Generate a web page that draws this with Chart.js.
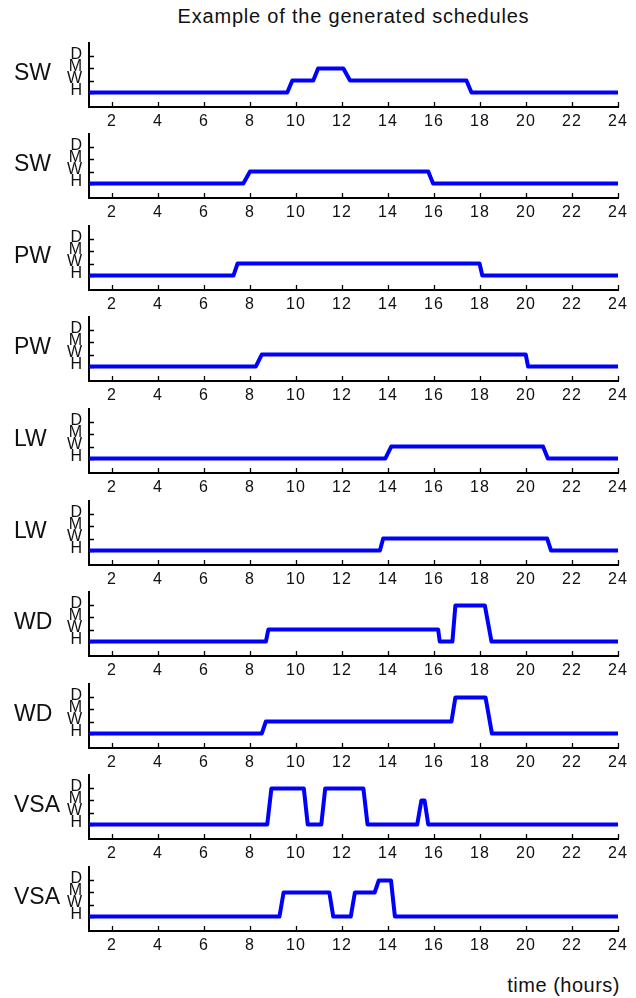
<!DOCTYPE html>
<html>
<head>
<meta charset="utf-8">
<script src="https://cdn.jsdelivr.net/npm/chart.js@4/dist/chart.umd.min.js"></script>
<style>
    html, body { margin: 0; padding: 0; background: #fff; }
    #page {
        position: relative; width: 636px; height: 998px; overflow: hidden;
        font-family: 'Liberation Sans', Arial, sans-serif; color: #111;
    }
    #page canvas { position: absolute; left: 0; }
    .title {
        position: absolute; left: 89px; width: 529px; top: 6px;
        text-align: center; font-size: 20px; line-height: 20px; letter-spacing: 0.8px;
    }
    .xlabel {
        position: absolute; right: 16px; top: 975px;
        font-size: 20px; line-height: 20px; letter-spacing: 0.5px;
    }
</style>
</head>
<body>
<div id="page">
    <div class="title">Example of the generated schedules</div>
    <div class="xlabel">time (hours)</div>
</div>
<script>
// ── DATA ─────────────────────────────────────────────────────────
const rowLabels = ['SW', 'SW', 'PW', 'PW', 'LW', 'LW', 'WD', 'WD', 'VSA', 'VSA'];
const levelNames = ['H', 'W', 'M', 'D'];
const hourTicks = [2, 4, 6, 8, 10, 12, 14, 16, 18, 20, 22, 24];

// breakpoints of each schedule (hour) and the activity level at each one
const schedTimes = [
    [1, 9.62, 9.84, 10.75, 10.96, 12.06, 12.35, 17.41, 17.63, 24],
    [1, 7.71, 8.0, 15.75, 15.96, 24],
    [1, 7.28, 7.46, 17.98, 18.10, 24],
    [1, 8.25, 8.51, 19.99, 20.09, 24],
    [1, 13.88, 14.14, 20.74, 20.95, 24],
    [1, 13.65, 13.79, 20.92, 21.09, 24],
    [1, 8.69, 8.80, 16.18, 16.25, 16.80, 16.93, 18.21, 18.50, 24],
    [1, 8.51, 8.69, 16.76, 16.93, 18.24, 18.52, 24],
    [1, 8.75, 8.93, 10.34, 10.51, 11.10, 11.27, 12.93, 13.11, 15.27, 15.45, 15.59, 15.75, 24],
    [1, 9.28, 9.46, 11.45, 11.62, 12.38, 12.56, 13.42, 13.60, 14.13, 14.30, 24]
];
const schedLevels = [
    [0, 0, 1, 1, 2, 2, 1, 1, 0, 0],
    [0, 0, 1, 1, 0, 0],
    [0, 0, 1, 1, 0, 0],
    [0, 0, 1, 1, 0, 0],
    [0, 0, 1, 1, 0, 0],
    [0, 0, 1, 1, 0, 0],
    [0, 0, 1, 1, 0, 0, 3, 3, 0, 0],
    [0, 0, 1, 1, 3, 3, 0, 0],
    [0, 0, 3, 3, 0, 0, 3, 3, 0, 0, 2, 2, 0, 0],
    [0, 0, 2, 2, 0, 0, 2, 2, 3, 3, 0, 0]
];

const FONT = "'Liberation Sans', Arial, sans-serif";
Chart.defaults.font.family = FONT;
Chart.defaults.color = '#111';

// inward tick marks (under the line) + row name on the left
const axisDecor = {
    id: 'axisDecor',
    beforeDraw(chart) {
        // the reference tick text is a bit wider than plain Arial
        chart.ctx.letterSpacing = '1px';
    },
    beforeDatasetsDraw(chart) {
        const { ctx, chartArea: a, scales: { x, y } } = chart;
        ctx.save();
        ctx.strokeStyle = '#000';
        ctx.lineWidth = 1.3;
        ctx.beginPath();
        hourTicks.forEach(h => {
            const px = Math.round(x.getPixelForValue(h)) + 0.5;
            ctx.moveTo(px, a.bottom);
            ctx.lineTo(px, a.bottom - 5);
        });
        levelNames.forEach((_, v) => {
            const py = Math.round(y.getPixelForValue(v)) + 0.5;
            ctx.moveTo(a.left, py);
            ctx.lineTo(a.left + 5, py);
        });
        ctx.stroke();
        ctx.restore();
    },
    afterDraw(chart, args, opts) {
        const { ctx, chartArea: a } = chart;
        ctx.save();
        ctx.letterSpacing = '0px';
        ctx.font = '23px ' + FONT;
        ctx.fillStyle = '#111';
        ctx.textAlign = 'left';
        ctx.textBaseline = 'middle';
        ctx.fillText(opts.label, 14, (a.top + a.bottom) / 2 - 1);
        ctx.restore();
    }
};

// ── ONE SMALL CHART PER ROW ──────────────────────────────────────
const page = document.getElementById('page');
const CANVAS_H = 105;

rowLabels.forEach((label, i) => {
    const axisBottom = Math.round(106.7 + i * 91.56);
    const canvas = document.createElement('canvas');
    canvas.width = 636;
    canvas.height = CANVAS_H;
    canvas.style.top = (axisBottom - 80) + 'px';
    page.appendChild(canvas);

    new Chart(canvas, {
        type: 'line',
        data: {
            datasets: [{
                data: schedTimes[i].map((t, k) => ({ x: t, y: schedLevels[i][k] })),
                borderColor: '#0000ff',
                borderWidth: 4,
                borderJoinStyle: 'round',
                pointRadius: 0,
                tension: 0,
                fill: false
            }]
        },
        plugins: [axisDecor],
        options: {
            responsive: false,
            animation: false,
            events: [],
            layout: { padding: { top: 10, right: 18, left: 0, bottom: 0 } },
            plugins: {
                legend: { display: false },
                tooltip: { enabled: false },
                axisDecor: { label }
            },
            scales: {
                x: {
                    type: 'linear',
                    min: 1,
                    max: 24,
                    afterBuildTicks: s => { s.ticks = hourTicks.map(v => ({ value: v })); },
                    afterFit: s => { s.height = 25; },
                    grid: { drawOnChartArea: false, drawTicks: false },
                    border: { display: true, color: '#000', width: 2 },
                    ticks: { font: { size: 16 }, padding: 5, maxRotation: 0, autoSkip: false }
                },
                y: {
                    type: 'linear',
                    min: -1.2,
                    max: 4.15,
                    afterBuildTicks: s => { s.ticks = levelNames.map((_, v) => ({ value: v })); },
                    afterFit: s => { s.width = 89; },
                    grid: { drawOnChartArea: false, drawTicks: false },
                    border: { display: true, color: '#000', width: 2 },
                    ticks: {
                        callback: v => levelNames[v],
                        font: { size: 16 },
                        padding: 6,
                        labelOffset: -2,
                        autoSkip: false
                    }
                }
            }
        }
    });
});
</script>
</body>
</html>
